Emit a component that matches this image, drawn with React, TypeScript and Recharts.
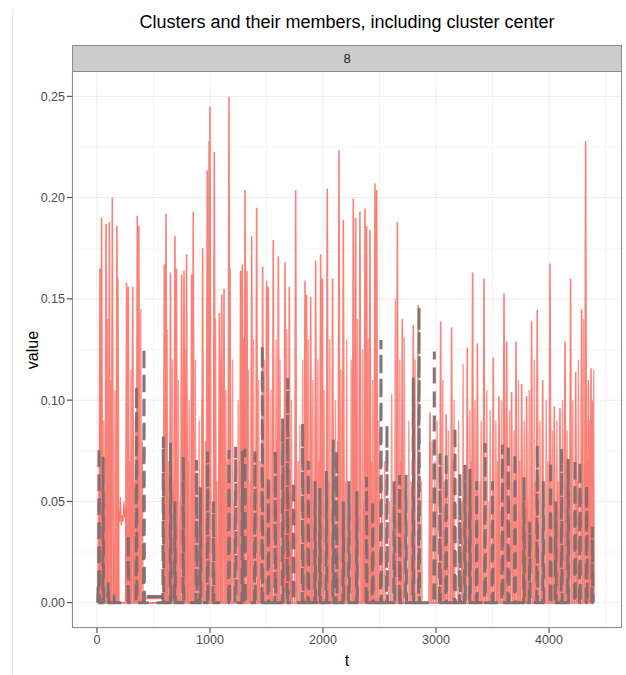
import React from 'react';
import { LineChart, Line, XAxis, YAxis, CartesianGrid } from 'recharts';

// axis setup (ggplot-style 5% expansion)
const T_DOMAIN = [-221, 4646];
const T_TICKS = [0, 1000, 2000, 3000, 4000];
const T_MINOR = [500, 1500, 2500, 3500, 4500];
const V_DOMAIN = [-0.0125, 0.2625];
const V_TICKS = [0, 0.05, 0.1, 0.15, 0.2, 0.25];
const V_MINOR = [0.025, 0.075, 0.125, 0.175, 0.225];

const FACET_LABEL = '8';
const TITLE = 'Clusters and their members, including cluster center';

// member series: peak positions [t, value]
const memberTall: [number, number][] = [
  [27, 0.165], [41, 0.19], [80, 0.187], [109, 0.188], [136, 0.2], [177, 0.186], [185, 0.16],
  [262, 0.158], [277, 0.156], [316, 0.156], [357, 0.191], [370, 0.186],
  [596, 0.167], [611, 0.192], [651, 0.163], [690, 0.181], [703, 0.165], [749, 0.162], [770, 0.164],
  [793, 0.172], [838, 0.162], [852, 0.193], [935, 0.175], [976, 0.2135], [1000, 0.245], [1038, 0.2225],
  [1083, 0.143], [1104, 0.152], [1124, 0.155], [1168, 0.2497], [1177, 0.165], [1271, 0.164], [1286, 0.167],
  [1310, 0.2037], [1327, 0.164], [1369, 0.181], [1413, 0.195], [1466, 0.166], [1501, 0.159], [1516, 0.156],
  [1560, 0.179], [1605, 0.171], [1664, 0.168], [1702, 0.156], [1758, 0.2037], [1841, 0.159], [1855, 0.152],
  [1891, 0.151], [1935, 0.169], [1979, 0.172], [1994, 0.16], [2038, 0.2045], [2085, 0.16], [2142, 0.2234],
  [2180, 0.189], [2268, 0.1996], [2289, 0.19], [2327, 0.193], [2372, 0.1946], [2386, 0.186], [2416, 0.184],
  [2460, 0.207], [2475, 0.2037], [2658, 0.188], [2702, 0.14], [2799, 0.137], [2844, 0.147],
  [2947, 0.094], [3041, 0.139], [3090, 0.093], [3138, 0.136], [3277, 0.126], [3324, 0.163], [3366, 0.128],
  [3425, 0.16], [3507, 0.121], [3557, 0.102], [3602, 0.1527], [3625, 0.129], [3669, 0.104], [3708, 0.129],
  [3758, 0.108], [3802, 0.102], [3846, 0.139], [3896, 0.1445], [3944, 0.11], [4009, 0.1675], [4047, 0.097],
  [4097, 0.096], [4142, 0.129], [4191, 0.16], [4236, 0.114], [4289, 0.145], [4324, 0.228], [4348, 0.11],
  [4372, 0.1157], [4384, 0.1],
];

const memberLow: [number, number][] = [
  [33, 0.12], [60, 0.09], [95, 0.14], [122, 0.11], [160, 0.105], [300, 0.115], [340, 0.09], [388, 0.145],
  [620, 0.135], [668, 0.12], [720, 0.11], [780, 0.125], [815, 0.1], [870, 0.12], [905, 0.09], [930, 0.1],
  [990, 0.228], [1050, 0.14], [1095, 0.12], [1140, 0.105], [1200, 0.12], [1250, 0.1], [1295, 0.13],
  [1340, 0.115], [1385, 0.13], [1430, 0.11], [1480, 0.12], [1540, 0.105], [1585, 0.13], [1620, 0.12],
  [1680, 0.135], [1720, 0.1], [1796, 0.088], [1820, 0.12], [1870, 0.13], [1910, 0.11], [1955, 0.12],
  [2010, 0.105], [2060, 0.13], [2110, 0.1], [2160, 0.115], [2210, 0.13], [2250, 0.12], [2305, 0.14],
  [2350, 0.125], [2400, 0.13], [2440, 0.11], [2495, 0.09], [2545, 0.07], [2608, 0.103], [2640, 0.15],
  [2680, 0.12], [2720, 0.131], [2760, 0.09], [2815, 0.12], [2870, 0.06], [2965, 0.08], [3010, 0.09],
  [3060, 0.11], [3110, 0.085], [3160, 0.1], [3200, 0.09], [3240, 0.118], [3300, 0.095], [3345, 0.1],
  [3400, 0.09], [3450, 0.105], [3480, 0.095], [3530, 0.09], [3580, 0.1], [3650, 0.095], [3690, 0.085],
  [3730, 0.11], [3780, 0.09], [3825, 0.105], [3870, 0.12], [3920, 0.09], [3975, 0.1], [4030, 0.085],
  [4070, 0.09], [4120, 0.1], [4160, 0.085], [4210, 0.1], [4260, 0.12], [4305, 0.14], [4360, 0.09],
  [4395, 0.115],
];

// shorter member bumps that sit under the centre trace
const memberShort: [number, number][] = [
  [15, 0.06], [70, 0.05], [150, 0.03], [290, 0.07], [330, 0.06], [400, 0.08], [630, 0.07], [675, 0.06],
  [735, 0.05], [805, 0.07], [890, 0.06], [960, 0.08], [1060, 0.06], [1150, 0.07], [1215, 0.05],
  [1260, 0.07], [1355, 0.06], [1445, 0.07], [1530, 0.06], [1595, 0.08], [1780, 0.07], [1900, 0.06],
  [1965, 0.07], [2050, 0.06], [2130, 0.08], [2200, 0.06], [2280, 0.07], [2360, 0.05], [2430, 0.07],
  [2520, 0.06], [2590, 0.05], [2690, 0.07], [2780, 0.06], [2990, 0.07], [3070, 0.06], [3150, 0.07],
  [3230, 0.05], [3310, 0.07], [3390, 0.06], [3470, 0.05], [3545, 0.07], [3615, 0.06], [3740, 0.07],
  [3810, 0.05], [3880, 0.06], [3990, 0.07], [4080, 0.06], [4150, 0.07], [4250, 0.06], [4340, 0.07],
];

// member traces that wander instead of spiking
const memberWiggle: [number, number][] = [
  [185, 0], [192, 0.045], [200, 0.04], [207, 0.052], [215, 0.038], [222, 0.043], [230, 0.04],
  [238, 0.05], [245, 0.042], [252, 0.046], [260, 0.04], [268, 0],
];
const memberDense: [number, number][] = [
  [1645, 0], [1649, 0.06], [1653, 0.01], [1657, 0.066], [1661, 0.005], [1665, 0.062], [1669, 0.008],
  [1673, 0.068], [1677, 0.004], [1681, 0.064], [1685, 0.01], [1689, 0.07], [1693, 0.006], [1697, 0.063],
  [1701, 0.009], [1705, 0.066], [1709, 0.004], [1713, 0.06], [1717, 0.008], [1721, 0.055], [1725, 0],
];
const memberFlat: [number, number][] = [[430, 0.002], [590, 0.002]];

// cluster center peaks
const centerPeaks: [number, number][] = [
  [10, 0.008], [18, 0.077], [55, 0.072], [100, 0.01], [150, 0.004], [277, 0.0335], [350, 0.107], [416, 0.126],
  [587, 0.082], [651, 0.079], [690, 0.05], [764, 0.072], [881, 0.0705], [915, 0.057], [979, 0.0746],
  [1030, 0.05], [1168, 0.0754], [1227, 0.077], [1287, 0.075], [1310, 0.076], [1398, 0.0746], [1463, 0.127],
  [1516, 0.062], [1578, 0.075], [1643, 0.091], [1687, 0.1108], [1740, 0.06], [1820, 0.0886], [1870, 0.07],
  [1930, 0.06], [1973, 0.0566], [2030, 0.065], [2091, 0.0804], [2120, 0.075], [2180, 0.05], [2230, 0.06],
  [2300, 0.055], [2386, 0.062], [2440, 0.05], [2513, 0.1297], [2566, 0.0877], [2630, 0.06], [2678, 0.063],
  [2735, 0.063], [2799, 0.111], [2850, 0.146], [2985, 0.124], [3035, 0.0736], [3090, 0.074], [3168, 0.087],
  [3212, 0.064], [3256, 0.068], [3300, 0.066], [3360, 0.06], [3434, 0.0788], [3500, 0.06], [3587, 0.078],
  [3640, 0.078], [3699, 0.074], [3779, 0.062], [3830, 0.04], [3896, 0.078], [3950, 0.06], [4014, 0.07],
  [4060, 0.05], [4112, 0.0762], [4170, 0.071], [4230, 0.071], [4274, 0.0697], [4333, 0.058], [4384, 0.0375],
];
const centerFlat: [number, number][] = [[440, 0.003], [580, 0.003]];

const RED = '#F8766D';
const CENTER = '#806c6e';
const FONT = '"Liberation Sans", Arial, sans-serif';

// each peak becomes a narrow up-and-down trace from the baseline
const toSpikes = (peaks: [number, number][], w: number) =>
  peaks.flatMap(([t, v]) => [
    { t: t - w, v: 0 },
    { t, v },
    { t: t + w, v: 0 },
  ]);
const toPoints = (pts: [number, number][]) => pts.map(([t, v]) => ({ t, v }));

const fmt = (v: number) => v.toFixed(2);

export default function App() {
  const tick = { fill: '#4D4D4D', fontSize: 12.5, fontFamily: FONT };
  return (
    <div style={{ position: 'absolute', left: 0, top: 0, width: 626, height: 675, background: '#fff', fontFamily: FONT }}>
      <LineChart width={626} height={675} margin={{ top: 71, right: 4, bottom: 17, left: 12 }}>
        <CartesianGrid stroke="#F4F4F4" horizontalValues={V_MINOR} verticalValues={T_MINOR} />
        <CartesianGrid stroke="#EBEBEB" />
        <XAxis
          dataKey="t"
          type="number"
          domain={T_DOMAIN}
          ticks={T_TICKS}
          allowDataOverflow
          height={30}
          axisLine={false}
          tickLine={{ stroke: '#333' }}
          tickSize={5}
          tickMargin={2}
          tick={tick}
        />
        <YAxis
          dataKey="v"
          type="number"
          domain={V_DOMAIN}
          ticks={V_TICKS}
          allowDataOverflow
          width={60}
          axisLine={false}
          tickLine={{ stroke: '#333' }}
          tickSize={5}
          tickMargin={2}
          tickFormatter={fmt}
          tick={tick}
        />
        <Line data={toSpikes(memberShort, 8)} dataKey="v" stroke={RED} strokeOpacity={0.8} strokeWidth={1.4} dot={false} isAnimationActive={false} />
        <Line data={toSpikes(memberLow, 7)} dataKey="v" stroke={RED} strokeOpacity={0.75} strokeWidth={1.4} dot={false} isAnimationActive={false} />
        <Line data={toSpikes(memberTall, 9)} dataKey="v" stroke={RED} strokeOpacity={0.92} strokeWidth={1.6} dot={false} isAnimationActive={false} />
        <Line data={toPoints(memberWiggle)} dataKey="v" stroke={RED} strokeWidth={1.2} dot={false} isAnimationActive={false} />
        <Line data={toPoints(memberDense)} dataKey="v" stroke={RED} strokeWidth={1.6} dot={false} isAnimationActive={false} />
        <Line data={toPoints(memberFlat)} dataKey="v" stroke={RED} strokeWidth={1.2} dot={false} isAnimationActive={false} />
        <Line data={toPoints(centerFlat)} dataKey="v" stroke={CENTER} strokeWidth={3} dot={false} isAnimationActive={false} />
        <Line data={toSpikes(centerPeaks, 4)} dataKey="v" stroke={CENTER} strokeOpacity={0.95} strokeWidth={3} strokeDasharray="16 8" dot={false} isAnimationActive={false} />
      </LineChart>

      {/* title, facet strip, panel border, axis titles */}
      <div style={{ position: 'absolute', left: 72, top: 12, width: 550, textAlign: 'center', fontSize: 18, lineHeight: '20px', color: '#000' }}>
        {TITLE}
      </div>
      <div style={{ position: 'absolute', left: 72, top: 45, width: 550, height: 27, boxSizing: 'border-box', background: '#CCCCCC', border: '1px solid #8c8c8c', textAlign: 'center', fontSize: 13, lineHeight: '25px', color: '#1a1a1a' }}>
        {FACET_LABEL}
      </div>
      <div style={{ position: 'absolute', left: 72, top: 71, width: 550, height: 557, boxSizing: 'border-box', border: '1px solid #8c8c8c', pointerEvents: 'none' }} />
      <div style={{ position: 'absolute', left: 72, top: 651, width: 550, textAlign: 'center', fontSize: 16, lineHeight: '20px', color: '#000' }}>t</div>
      <div style={{ position: 'absolute', left: 33, top: 350, transform: 'translate(-50%, -50%) rotate(-90deg)', fontSize: 16, lineHeight: '18px', color: '#000', whiteSpace: 'nowrap' }}>value</div>
      <div style={{ position: 'absolute', left: 12, top: 10, width: 1, height: 665, background: '#e8e8e8' }} />
    </div>
  );
}
